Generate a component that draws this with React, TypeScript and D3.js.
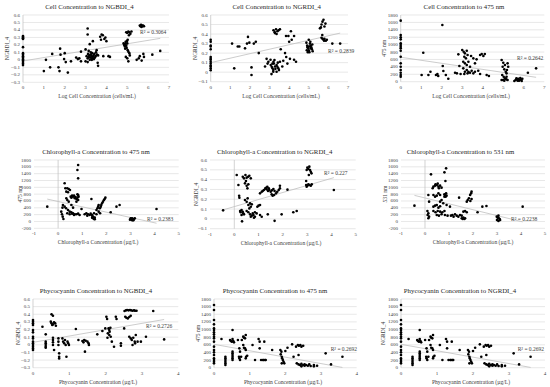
import React from "react";
import * as d3 from "d3";

type Pt = [number, number];

// ---------- titles / labels ----------
const chartTitles = [
  "Cell Concentration to NGBDI_4",
  "Cell Concentration to NGRDI_4",
  "Cell Concentration to 475 nm",
  "Chlorophyll-a Concentration to 475 nm",
  "Chlorophyll-a Concentration to NGRDI_4",
  "Chlorophyll-a Concentration to 531 nm",
  "Phycocyanin Concentration to NGBDI_4",
  "Phycocyanin Concentration to 475 nm",
  "Phycocyanin Concentration to NGRDI_4",
];
const xAxisTitles = [
  "Log Cell Concentration (cells/mL)",
  "Log Cell Concentration (cells/mL)",
  "Log Cell Concentration (cells/mL)",
  "Chlorophyll-a Concentration (µg/L)",
  "Chlorophyll-a Concentration (µg/L)",
  "Chlorophyll-a Concentration (µg/L)",
  "Phycocyanin Concentration (µg/L)",
  "Phycocyanin Concentration (µg/L)",
  "Phycocyanin Concentration (µg/L)",
];
const yAxisTitles = ["NGBDI_4", "NGRDI_4", "475 nm", "475 nm", "NGRDI_4", "531 nm", "NGBDI_4", "475 nm", "NGRDI_4"];
const r2Labels = ["R² = 0.3064", "R² = 0.2839", "R² = 0.2642", "R² = 0.2383", "R² = 0.227", "R² = 0.2238", "R² = 0.2726", "R² = 0.2692", "R² = 0.2692"];

// ---------- tick values ----------
const xTicksCell = [0, 1, 2, 3, 4, 5, 6, 7];
const xTicksChl = [-1, 0, 1, 2, 3, 4, 5];
const xTicksPhy = [0, 1, 2, 3, 4];
const yTicksNgbdi = [-0.3, -0.2, -0.1, 0, 0.1, 0.2, 0.3, 0.4, 0.5, 0.6];
const yTicksNgrdi = [-0.1, 0, 0.1, 0.2, 0.3, 0.4, 0.5, 0.6];
const yTicksNm = [0, 200, 400, 600, 800, 1000, 1200, 1400, 1600, 1800];
const yTicksNmNeg = [-200, 0, 200, 400, 600, 800, 1000, 1200, 1400, 1600, 1800];

// ---------- trend lines [intercept, slope] ----------
const trendCellNgbdi = [-0.015, 0.046];
const trendCellNgrdi = [0.1, 0.047];
const trendCellNm475 = [660, -82];
const trendChlNm475 = [585, -156];
const trendChlNgrdi = [0.125, 0.072];
const trendChlNm531 = [688, -172];
const trendPhyNgbdi = [0.032, 0.083];
const trendPhyNm475 = [612, -168];

// ---------- series ----------
const cellNgbdi: Pt[] = [
  [0, 0.32], [0, 0.31], [0, 0.3], [0, 0.29], [0, 0.28], [0, 0.17], [0, 0.09], [0, 0.07], [0, 0.05], [0, 0.03], [0, 0.01], [0, 0], [0, -0.01], [0, -0.03], [0, -0.05], [0, -0.07],
  [1.0, -0.15], [1.1, 0.0], [1.3, -0.1], [1.4, 0.08], [1.7, -0.1], [1.75, -0.15], [1.78, 0.15], [1.8, 0.07], [1.97, 0.01], [2.0, 0.09], [2.05, -0.03], [2.15, -0.17], [2.3, -0.02],
  [2.55, 0.03], [2.63, 0.01], [2.7, 0.02], [2.78, 0.11], [2.78, -0.02], [3.0, 0.14], [3.1, 0.42], [3.1, 0.34], [3.2, 0.21], [3.35, 0.25], [3.53, 0.13], [3.58, -0.04], [3.6, -0.08],
  [3.7, 0.31], [3.77, 0.34], [3.83, 0.33], [3.9, 0.28], [3.74, 0.27], [3.95, 0.3], [4.0, 0.25], [3.85, 0.05], [4.1, 0.05], [4.17, 0.04],
  [3.05, 0.05], [3.1, 0.02], [3.12, 0.08], [3.15, 0.04], [3.18, 0.06], [3.2, 0.0], [3.22, 0.03], [3.25, 0.07], [3.28, 0.05], [3.3, 0.02], [3.32, 0.09], [3.35, 0.04], [3.38, 0.06],
  [3.4, 0.01], [3.42, 0.08], [3.45, 0.03], [3.48, 0.05], [3.5, 0.1], [3.55, 0.07], [3.15, 0.12], [3.25, 0.1], [3.0, -0.02], [3.1, -0.03], [3.3, 0.0], [3.6, 0.06],
  [4.82, 0.22], [4.85, 0.2], [4.88, 0.18], [4.9, 0.21], [4.92, 0.24], [4.95, 0.19], [4.97, 0.16], [5.0, 0.22], [5.02, 0.13], [5.05, 0.11], [4.9, 0.15], [5.1, 0.09], [5.12, 0.06],
  [4.93, 0.04], [5.0, 0.02], [5.05, -0.02], [4.95, 0.37], [5.0, 0.36], [5.05, 0.38], [5.1, 0.37], [5.15, 0.35], [5.2, 0.38], [5.08, 0.33], [4.98, 0.25], [5.02, 0.27],
  [5.6, 0.46], [5.63, 0.45], [5.66, 0.47], [5.7, 0.46], [5.73, 0.45], [5.76, 0.46], [5.8, 0.45], [5.68, 0.44],
  [5.45, 0.0], [5.6, 0.05], [5.69, -0.01], [5.77, 0.08], [5.8, 0.04], [5.55, 0.02], [6.2, 0.07], [6.58, 0.12],
];

const cellNgrdi: Pt[] = [
  [0, 0.34], [0, 0.32], [0, 0.28], [0, 0.27], [0, 0.24], [0, 0.16], [0, 0.14], [0, 0.13], [0, 0.11], [0, 0.09], [0, 0.07], [0, 0.06], [0, 0.04], [0, 0.02],
  [1.09, 0.3], [1.2, 0.04], [1.38, 0.27], [1.46, 0.27], [1.75, 0.25], [1.85, 0.3], [1.9, 0.37], [1.97, 0.31], [2.08, 0.05], [2.08, -0.03], [2.2, 0.3], [2.3, 0.32], [2.45, 0.2],
  [2.77, 0.06], [2.85, 0.14], [2.94, 0.11], [2.9, 0.09], [3.1, -0.02],
  [3.06, 0.075], [3.11, 0.057], [3.15, 0.04], [3.19, 0.022], [3.22, 0.09], [3.28, 0.06], [3.3, 0.035], [3.36, 0.075], [3.4, 0.057], [3.45, 0.04], [3.48, 0.022], [3.53, 0.11],
  [3.2, 0.11], [3.25, 0.127], [3.36, 0.005], [3.19, 0.005], [3.05, 0.13], [3.42, 0.1], [3.15, 0.09],
  [3.2, 0.44], [3.26, 0.42], [3.33, 0.45], [3.4, 0.43], [3.46, 0.44], [3.28, 0.41], [3.36, 0.4], [3.53, 0.45],
  [3.57, 0.24], [3.65, 0.06], [3.7, 0.12], [3.79, 0.2], [3.84, 0.38], [3.96, 0.38], [4.0, 0.32], [4.13, 0.34], [4.09, 0.43], [4.25, 0.38], [3.91, 0.09], [4.04, 0.14],
  [4.25, 0.13], [4.35, 0.11], [3.85, 0.16],
  [4.88, 0.31], [4.92, 0.28], [4.95, 0.27], [4.98, 0.25], [5.0, 0.23], [5.03, 0.21], [5.06, 0.3], [5.1, 0.28], [5.13, 0.26], [5.16, 0.24], [5.2, 0.22], [4.9, 0.23],
  [4.95, 0.21], [5.0, 0.34], [5.08, 0.32], [5.12, 0.25], [5.18, 0.29], [4.93, 0.26], [5.05, 0.27],
  [5.75, 0.55], [5.7, 0.53], [5.85, 0.51], [5.65, 0.5], [5.8, 0.48], [5.57, 0.46], [5.62, 0.47], [5.69, 0.39],
  [5.7, 0.35], [5.75, 0.34], [5.8, 0.35], [5.87, 0.33], [5.92, 0.34], [5.65, 0.36], [5.78, 0.33], [6.2, 0.3], [6.6, 0.3],
];

const cellNm475: Pt[] = [
  [0, 1647], [0, 1260], [0, 1197], [0, 1143], [0, 1035], [0, 990], [0, 945], [0, 900], [0, 837], [0, 675], [0, 495], [0, 405], [0, 315], [0, 243], [0, 180], [0, 135],
  [1.02, 180], [1.1, 783], [1.35, 180], [1.45, 270], [1.72, 180], [1.79, 207], [1.83, 153], [2.03, 1530], [2.05, 423], [2.08, 288], [2.2, 180], [2.32, 81],
  [2.65, 243], [2.74, 225], [2.81, 738], [2.86, 423], [2.92, 207],
  [3.0, 855], [3.07, 810], [3.13, 765], [3.22, 837], [3.1, 675], [3.18, 630], [3.26, 720], [3.05, 540], [3.13, 495], [3.22, 450], [3.3, 540], [3.38, 405], [3.05, 360],
  [3.13, 270], [3.22, 315], [3.3, 270], [3.38, 243], [3.46, 297], [3.54, 225], [3.62, 270], [3.1, 207], [3.26, 225], [3.43, 693], [3.54, 630], [3.62, 495], [3.7, 603],
  [3.78, 297], [3.87, 207], [3.95, 747], [4.03, 693], [4.1, 747], [3.87, 720], [4.19, 180], [4.3, 153],
  [4.92, 585], [5.0, 513], [5.08, 450], [4.97, 405], [5.05, 333], [5.12, 270], [5.16, 225], [4.95, 180], [5.02, 135], [5.08, 90], [5.15, 63], [4.92, 45], [5.21, 495],
  [5.24, 405], [5.18, 315], [4.99, 45], [5.05, 27], [5.1, 81], [5.21, 45], [5.16, 135],
  [5.54, 18], [5.6, 45], [5.67, 63], [5.73, 81], [5.8, 45], [5.86, 63], [5.93, 81], [5.7, 27], [5.77, 27], [5.83, 99], [5.64, 90], [5.9, 18],
  [6.2, 243], [6.6, 360],
];

const chlNm475: Pt[] = [
  [-0.45, 434], [0.13, 288], [0.16, 210], [0.19, 141], [0.22, 73], [0.18, 405], [0.2, 483], [0.27, 1117], [0.3, 971], [0.38, 971], [0.44, 951], [0.49, 922], [0.34, 873],
  [0.41, 854], [0.34, 678], [0.38, 629], [0.44, 580], [0.27, 434], [0.33, 385], [0.41, 337], [0.48, 288], [0.55, 268], [0.62, 239], [0.69, 210], [0.38, 239], [0.48, 210],
  [0.58, 229], [0.66, 190], [0.76, 210], [0.83, 229], [0.89, 190], [0.52, 727], [0.55, 698], [0.58, 756], [0.62, 727], [0.69, 678], [0.72, 717], [0.76, 659], [0.66, 756],
  [0.8, 795], [0.83, 776], [0.85, 727], [0.8, 698], [0.83, 629], [0.76, 580], [0.83, 1654], [0.8, 1507], [0.83, 1263], [0.97, 366], [0.55, 483], [0.62, 405],
  [1.17, 239], [1.24, 210], [1.31, 190], [1.21, 171], [1.35, 229], [1.41, 190], [1.49, 239], [1.1, 210], [1.38, 659],
  [1.41, 112], [1.45, 93], [1.49, 73], [1.52, 63], [1.46, 132], [1.43, 151], [1.52, 112],
  [1.59, 337], [1.63, 385], [1.66, 434], [1.68, 483], [1.73, 385], [1.77, 434], [1.79, 483], [1.82, 532], [1.86, 580], [1.9, 629], [1.93, 659], [1.68, 288], [1.74, 239],
  [1.59, 210], [1.96, 698], [2.18, 268], [2.42, 434], [2.55, 483],
  [3.01, 93], [3.04, 63], [3.07, 93], [3.11, 44], [3.15, 73], [3.18, 93], [3.07, 34], [3.12, 34], [2.98, 54], [4.08, 366],
];

const chlNgrdi: Pt[] = [
  [-0.46, 0.087], [0.1, 0.447], [0.17, 0.345], [0.2, 0.236], [0.21, 0.216], [0.24, 0.08], [0.26, 0.067], [0.3, 0.09], [0.35, 0.073], [0.37, 0.056], [0.3, 0.039], [0.4, 0.046],
  [0.32, -0.025], [0.35, 0.43], [0.4, 0.413], [0.46, 0.447], [0.51, 0.42], [0.57, 0.43], [0.62, 0.44], [0.68, 0.413], [0.48, 0.386], [0.44, 0.362], [0.51, 0.338], [0.58, 0.352],
  [0.54, 0.311], [0.44, 0.192], [0.51, 0.175], [0.55, 0.209], [0.58, 0.141], [0.65, 0.158], [0.68, 0.124], [0.62, 0.107], [0.72, 0.148], [0.51, 0.08], [0.58, 0.067], [0.65, 0.046],
  [0.72, 0.033], [0.79, 0.039], [0.85, 0.022], [0.76, 0.056], [0.68, 0.022], [0.85, 0.067], [0.92, 0.056], [0.81, 0.012], [0.95, 0.124], [1.0, 0.135], [1.06, 0.141],
  [1.06, 0.039], [1.13, 0.022],
  [1.06, 0.26], [1.13, 0.277], [1.17, 0.284], [1.22, 0.294], [1.28, 0.311], [1.33, 0.301], [1.39, 0.284], [1.44, 0.294], [1.5, 0.277], [1.55, 0.291], [1.61, 0.304], [1.66, 0.284],
  [1.72, 0.26], [1.77, 0.277], [1.83, 0.294], [1.88, 0.311], [1.31, 0.318], [1.36, 0.328], [1.42, 0.311], [1.38, 0.046], [1.54, 0.25], [1.58, 0.236], [1.64, 0.243],
  [1.66, -0.02], [1.88, 0.338], [1.95, 0.046], [2.19, 0.298], [2.43, 0.067], [2.57, 0.08],
  [2.96, 0.386], [2.96, 0.345], [3.01, 0.338], [3.05, 0.352], [3.09, 0.345], [3.15, 0.338], [3.19, 0.352], [2.98, 0.328],
  [3.01, 0.522], [3.05, 0.508], [3.09, 0.532], [3.12, 0.498], [3.15, 0.481], [3.18, 0.464], [3.07, 0.447], [2.98, 0.498], [4.1, 0.294],
];

const chlNm531: Pt[] = [
  [-0.44, 463], [0.1, 307], [0.14, 239], [0.11, 190], [0.17, 141], [0.14, 93], [0.14, 776], [0.17, 580], [0.25, 1380],
  [0.32, 971], [0.35, 1020], [0.42, 1049], [0.49, 1068], [0.56, 1020], [0.63, 1049], [0.69, 990], [0.44, 1088], [0.53, 1107], [0.58, 971],
  [0.35, 776], [0.42, 727], [0.49, 756], [0.56, 824], [0.63, 776], [0.35, 434], [0.42, 463], [0.49, 483], [0.56, 405], [0.63, 444],
  [0.35, 307], [0.44, 268], [0.53, 307], [0.63, 288], [0.72, 268], [0.81, 307], [0.49, 190], [0.58, 171], [0.69, 210], [0.83, 190], [0.94, 171],
  [0.63, 580], [0.69, 629], [0.76, 532], [0.81, 795], [0.83, 776], [0.88, 824], [0.9, 756], [0.86, 727], [0.81, 727], [0.85, 1185], [0.81, 1439], [0.88, 1556],
  [0.9, 483], [1.04, 434], [1.08, 171], [1.14, 190], [1.19, 141], [1.25, 210], [1.32, 171], [1.39, 141], [1.46, 190], [1.53, 171],
  [1.53, 93], [1.57, 73], [1.6, 112], [1.64, 73], [1.67, 93], [1.74, 580], [1.78, 629], [1.83, 678], [1.89, 600], [1.94, 659], [1.88, 776], [1.92, 824], [1.94, 873],
  [1.6, 288], [1.67, 307], [1.74, 268], [1.42, 698], [2.19, 268], [2.39, 434], [2.56, 454],
  [2.99, 141], [3.03, 112], [3.06, 171], [3.08, 93], [3.13, 44], [3.0, 44], [3.06, 15], [3.11, 73], [4.07, 434],
];

const phyNgbdi: Pt[] = [
  [0, 0.324], [0, 0.303], [0, 0.281], [0, 0.259], [0, 0.193], [0, 0.163], [0, 0.106], [0, 0.084], [0, 0.041], [0, 0.019], [0, -0.003], [0, -0.025], [0, -0.047], [0, -0.069],
  [0.26, 0.237], [0.35, 0.137], [0.35, 0.041], [0.35, 0.019], [0.35, -0.003], [0.35, -0.025], [0.35, -0.038],
  [0.51, 0.399], [0.55, 0.381], [0.49, 0.303], [0.51, 0.281], [0.53, 0.259], [0.55, 0.268], [0.58, 0.294], [0.61, 0.281], [0.63, 0.25],
  [0.55, 0.093], [0.55, 0.062], [0.55, 0.032], [0.55, -0.003], [0.58, -0.069], [0.7, 0.084], [0.7, 0.041], [0.7, -0.003], [0.72, -0.112], [0.72, -0.156], [0.72, -0.178],
  [0.81, 0.084], [0.83, 0.041], [0.86, 0.019], [0.88, 0.062], [0.9, -0.003], [0.95, 0.041], [0.97, 0.019], [0.99, -0.003], [0.92, -0.156],
  [1.18, 0.207], [1.25, 0.062], [1.36, 0.049], [1.39, 0.032], [1.41, 0.062], [1.45, 0.053], [1.5, 0.041], [1.53, 0.019], [1.54, -0.003], [1.43, -0.09],
  [1.77, 0.137], [1.91, 0.18], [1.99, 0.215], [2.02, 0.368], [2.04, 0.338], [2.08, 0.215], [2.1, 0.193], [2.11, 0.171], [2.13, 0.224], [2.06, 0.15], [2.1, 0.128],
  [2.14, 0.106], [2.05, 0.093], [2.17, 0.041], [2.23, -0.025], [2.28, 0.368], [2.3, 0.338], [2.42, 0.019], [2.42, -0.012], [2.51, 0.215],
  [2.52, 0.442], [2.56, 0.451], [2.59, 0.455], [2.63, 0.451], [2.67, 0.455], [2.7, 0.451], [2.74, 0.447], [2.78, 0.451], [2.81, 0.447], [2.85, 0.447],
  [2.54, 0.368], [2.57, 0.355], [2.61, 0.346], [2.65, 0.364], [2.69, 0.381],
  [2.65, 0.106], [2.69, 0.084], [2.72, 0.062], [2.76, 0.093], [2.8, 0.041], [2.81, 0.019], [2.74, -0.003], [2.83, 0.128], [2.88, 0.041], [2.97, 0.041], [3.11, 0.106],
  [3.31, 0.442], [3.61, 0.071],
];

const phyNm475: Pt[] = [
  [0, 1643], [0, 1512], [0, 1250], [0, 1136], [0, 1031], [0, 988], [0, 927], [0, 874], [0, 813], [0, 769], [0, 682], [0, 551], [0, 463], [0, 402], [0, 332], [0, 245], [0, 201], [0, 157], [0, 114],
  [0.21, 752], [0.32, 288], [0.32, 245], [0.32, 201], [0.32, 157], [0.32, 114], [0.32, 70],
  [0.52, 988], [0.45, 725], [0.47, 699], [0.5, 682], [0.52, 752], [0.54, 699], [0.56, 664], [0.52, 420], [0.52, 376], [0.52, 332], [0.52, 288], [0.52, 245], [0.52, 201],
  [0.67, 725], [0.71, 507], [0.73, 420], [0.78, 725], [0.82, 594], [0.84, 524], [0.87, 507], [0.89, 463], [0.7, 288], [0.71, 245], [0.73, 201], [0.76, 288],
  [0.82, 813], [0.84, 787], [0.87, 769], [0.89, 857], [0.89, 245], [0.9, 288], [0.93, 315],
  [1.08, 594], [1.15, 201], [1.25, 752], [1.28, 682], [1.28, 507], [1.32, 201], [1.37, 201], [1.39, 201], [1.43, 201], [1.45, 201], [1.41, 682], [1.63, 463],
  [1.86, 463], [1.89, 420], [1.87, 350], [1.9, 288], [1.91, 245], [1.93, 201], [1.95, 157], [1.9, 114], [1.97, 114], [2.0, 437], [2.06, 524], [2.19, 612], [2.23, 288],
  [2.3, 551], [2.35, 594], [2.38, 577], [2.42, 594], [2.45, 551], [2.5, 577], [2.37, 332],
  [2.32, 114], [2.37, 87], [2.41, 70], [2.45, 105], [2.5, 70], [2.54, 52], [2.58, 70], [2.63, 52], [2.67, 87], [2.71, 44], [2.8, 35], [2.45, 35], [2.54, 87],
  [2.8, 70], [2.89, 52], [3.13, 376], [3.28, 87], [3.6, 288],
];

// ---------- layout (pixel geometry of each panel) ----------
type Panel = {
  i: number; data: Pt[]; trend: number[]; xTicks: number[]; yTicks: number[];
  px: [number, number]; py: [number, number]; yTitleX: number; r2X: number; r2Y: number; titleX: number; xTitleX: number;
  fmt: (v: number) => string;
};
const fmtDec = (v: number) => (Math.abs(v) < 1e-9 ? "0" : d3.format(".1f")(v));
const fmtInt = (v: number) => String(v);

const panels: Panel[] = [
  { i: 0, data: cellNgbdi, trend: trendCellNgbdi, xTicks: xTicksCell, yTicks: yTicksNgbdi, px: [23, 169], py: [82.3, 15], yTitleX: 6.5, r2X: 140, r2Y: 32.3, titleX: 89.5, xTitleX: 97, fmt: fmtDec },
  { i: 1, data: cellNgrdi, trend: trendCellNgrdi, xTicks: xTicksCell, yTicks: yTicksNgrdi, px: [210.7, 348], py: [81.7, 15], yTitleX: 194.5, r2X: 328, r2Y: 51, titleX: 276.7, xTitleX: 281, fmt: fmtDec },
  { i: 2, data: cellNm475, trend: trendCellNm475, xTicks: xTicksCell, yTicks: yTicksNm, px: [400.7, 544.3], py: [81.7, 15], yTitleX: 383.5, r2X: 517, r2Y: 58.3, titleX: 464, xTitleX: 471, fmt: fmtInt },
  { i: 3, data: chlNm475, trend: trendChlNm475, xTicks: xTicksChl, yTicks: yTicksNmNeg, px: [34, 178.7], py: [228.3, 160], yTitleX: 19.5, r2X: 147, r2Y: 219, titleX: 96, xTitleX: 98, fmt: fmtInt },
  { i: 4, data: chlNgrdi, trend: trendChlNgrdi, xTicks: xTicksChl, yTicks: yTicksNgrdi, px: [210, 355.7], py: [228.7, 160], yTitleX: 195.5, r2X: 324, r2Y: 172.7, titleX: 274.7, xTitleX: 281, fmt: fmtDec },
  { i: 5, data: chlNm531, trend: trendChlNm531, xTicks: xTicksChl, yTicks: yTicksNmNeg, px: [401, 545], py: [228.3, 160], yTitleX: 384.5, r2X: 511, r2Y: 219, titleX: 460.5, xTitleX: 473, fmt: fmtInt },
  { i: 6, data: phyNgbdi, trend: trendPhyNgbdi, xTicks: xTicksPhy, yTicks: yTicksNgbdi, px: [33, 178.3], py: [367.7, 299], yTitleX: 17.5, r2X: 146, r2Y: 325.7, titleX: 96, xTitleX: 98, fmt: fmtDec },
  { i: 7, data: phyNm475, trend: trendPhyNm475, xTicks: xTicksPhy, yTicks: yTicksNm, px: [214, 356.7], py: [367.7, 299], yTitleX: 197.5, r2X: 330.7, r2Y: 349, titleX: 275, xTitleX: 283, fmt: fmtInt },
  { i: 8, data: phyNm475, trend: trendPhyNm475, xTicks: xTicksPhy, yTicks: yTicksNm, px: [401, 545], py: [367.7, 299], yTitleX: 382.5, r2X: 517.7, r2Y: 349, titleX: 460, xTitleX: 471, fmt: fmtInt },
];

const FONT = "'Liberation Serif', 'Times New Roman', serif";
const TXT = "#404040";

function ScatterPanel({ p }: { p: Panel }) {
  const x = d3.scaleLinear().domain(d3.extent(p.xTicks) as [number, number]).range(p.px);
  const y = d3.scaleLinear().domain(d3.extent(p.yTicks) as [number, number]).range(p.py);
  const [x0, x1] = d3.extent(p.data, (d) => d[0]) as [number, number];
  const line = d3.line<number>().x((v) => x(v)).y((v) => y(p.trend[0] + p.trend[1] * v));
  const bottom = p.py[0];
  const top = p.py[1];
  return (
    <g>
      {p.yTicks.map((t) => (
        <line key={"g" + t} x1={p.px[0]} x2={p.px[1]} y1={y(t)} y2={y(t)} stroke="#d9d9d9" strokeWidth={0.6} />
      ))}
      <line x1={x(0)} x2={x(0)} y1={bottom} y2={top} stroke="#bfbfbf" strokeWidth={0.7} />
      {p.yTicks.map((t) => (
        <text key={"yt" + t} x={p.px[0] - 3} y={y(t)} fontSize={5} textAnchor="end" dominantBaseline="central" fill={TXT}>
          {p.fmt(t)}
        </text>
      ))}
      {p.xTicks.map((t) => (
        <text key={"xt" + t} x={x(t)} y={bottom + 5.5} fontSize={5} textAnchor="middle" dominantBaseline="central" fill={TXT}>
          {t}
        </text>
      ))}
      <path d={line([x0, x1]) || ""} stroke="#bfbfbf" strokeWidth={0.8} fill="none" />
      {p.data.map((d, k) => (
        <circle key={k} cx={x(d[0])} cy={y(d[1])} r={1.3} fill="#000" />
      ))}
      <text x={p.r2X} y={p.r2Y} fontSize={5.5} dominantBaseline="central" fill={TXT}>
        {r2Labels[p.i]}
      </text>
      <text x={p.titleX} y={top - 8.7} fontSize={6.8} textAnchor="middle" dominantBaseline="central" fill="#262626">
        {chartTitles[p.i]}
      </text>
      <text x={p.xTitleX} y={bottom + 14} fontSize={5.6} textAnchor="middle" dominantBaseline="central" fill={TXT}>
        {xAxisTitles[p.i]}
      </text>
      <text
        transform={`translate(${p.yTitleX},${(top + bottom) / 2}) rotate(-90)`}
        fontSize={5.6}
        textAnchor="middle"
        dominantBaseline="central"
        fill={TXT}
      >
        {yAxisTitles[p.i]}
      </text>
    </g>
  );
}

export default function App() {
  return (
    <svg
      width={550}
      height={387}
      viewBox="0 0 550 387"
      style={{ position: "absolute", left: 0, top: 0, background: "#fff" }}
      fontFamily={FONT}
    >
      <rect width={550} height={387} fill="#fff" />
      {panels.map((p) => (
        <ScatterPanel key={p.i} p={p} />
      ))}
    </svg>
  );
}
